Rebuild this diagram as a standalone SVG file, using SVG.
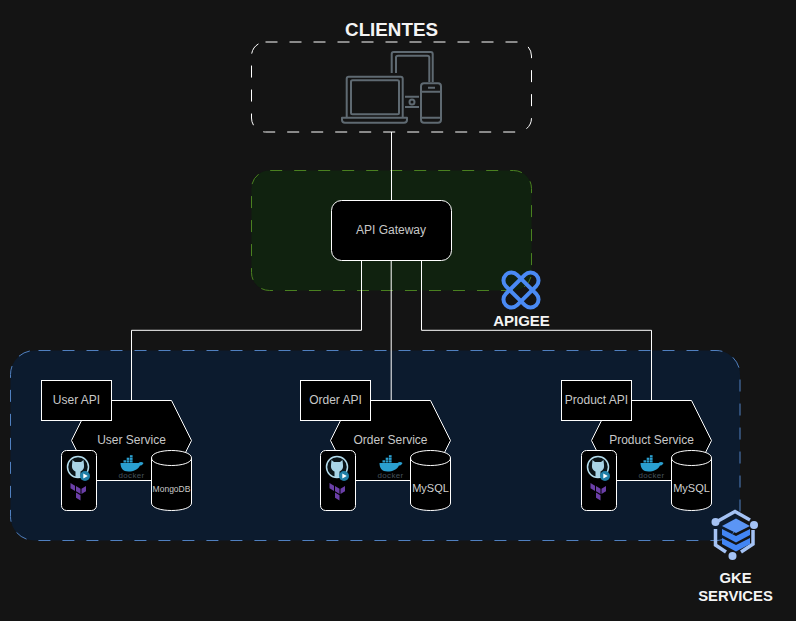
<svg xmlns="http://www.w3.org/2000/svg" xmlns:xlink="http://www.w3.org/1999/xlink" width="796" height="621" viewBox="0 0 796 621">
<style>
text{font-family:"Liberation Sans",Arial,sans-serif;text-anchor:middle}
.lbl{font-size:12px;fill:#c8c8c8}
.title{font-weight:bold;fill:#f4f4f4}
.box{fill:#000;stroke:#fff;stroke-width:1}
.conn{fill:none;stroke:#fff;stroke-width:1}
.dev{fill:none;stroke:#5f6a72;stroke-width:2;stroke-linejoin:round}
.apg{fill:none;stroke:#4a8af4;stroke-width:4}
</style>
<defs>
<g id="tools">
<rect class="box" x="61.500" y="450.500" width="35" height="60" rx="5"/>
<circle cx="78" cy="467" r="10.500" fill="#0a1418" stroke="#b4dcec" stroke-width="1.500"/>
<path d="M72.500 460 L75 462 H81 L83.500 460 L84 465 C84.500 469 82 471 80.500 471.500 V477 H75.500 V471.500 C74 471 71.500 469 72 465 Z" fill="#a8d4e6"/>
<circle cx="85" cy="476" r="5" fill="#1f7ea6"/>
<path d="M83.300 473.500 L87.800 476 L83.300 478.500 Z" fill="#fff"/>
<g fill="#6b3fa8">
<path d="M76 486 L80.500 488.700 V494 L76 491.300 Z"/>
<path d="M81.500 488.700 L86 486 V491.300 L81.500 494 Z"/>
<path d="M70.500 483 L75 485.700 V491 L70.500 488.300 Z"/>
<path d="M76 492.500 L80.500 495.200 V500.500 L76 497.800 Z"/>
</g>
</g>
<g id="docker">
<path d="M120.500 463 H138.500 C140 461.500 142 461.500 143.500 463 C142.500 465 141.500 465.500 140 465.500 C138 469.500 133.500 471.500 128.500 471.500 C123 471.500 120.500 468 120.500 463 Z" fill="#2a9fd0"/>
<g fill="#2a9fd0">
<rect x="123.500" y="460.300" width="2.700" height="2.200"/><rect x="126.700" y="460.300" width="2.700" height="2.200"/><rect x="129.900" y="460.300" width="2.700" height="2.200"/>
<rect x="126.700" y="457.700" width="2.700" height="2.200"/><rect x="129.900" y="457.700" width="2.700" height="2.200"/><rect x="129.900" y="455.200" width="2.700" height="2.200"/>
</g>
<text x="131.500" y="478" font-size="8" style="fill:#45525c;letter-spacing:.3px">docker</text>
</g>
<g id="db">
<path class="box" d="M151.500 458 C151.500 448 191.500 448 191.500 458 V503 C191.500 513 151.500 513 151.500 503 Z"/>
<path class="conn" d="M151.500 458 C151.500 468 191.500 468 191.500 458"/>
</g>
</defs>

<rect id="bg" width="796" height="621" fill="#141414"/>

<g id="clientes">
<rect x="251.500" y="42" width="280" height="90" rx="14" fill="none" stroke="#fff" stroke-width="1" stroke-dasharray="12 12"/>
<text class="title" x="391.500" y="35.500" font-size="18.800">CLIENTES</text>
<g class="dev">
<path d="M391.700 73 V54 Q391.700 52 393.700 52 H430.700 Q432.700 52 432.700 54 V82"/>
<path d="M396 73 V57.500 Q396 55.700 398 55.700 H427.300 Q429.300 55.700 429.300 57.500 V82"/>
<path d="M346.700 117 V78.700 Q346.700 76.700 348.700 76.700 H400.700 Q402.700 76.700 402.700 78.700 V117"/>
<rect x="351" y="80.300" width="48" height="34" rx="1.500"/>
<path d="M342 117.700 H407 V120 Q407 122.700 404 122.700 H345 Q342 122.700 342 120 Z"/>
<rect x="421" y="83.300" width="20" height="39.400" rx="3"/>
<path d="M421 91.700 H441 M421 117.700 H441 M428 87.700 H435 M405 96.700 H419 M405 107 H419"/>
<circle cx="412" cy="102" r="2.500"/>
</g>
</g>

<g id="apigee-zone">
<rect x="251.500" y="170.500" width="280" height="120" rx="18" fill="#10220f" stroke="#4a8020" stroke-width="1" stroke-dasharray="12 12" stroke-dashoffset="-0.700"/>
</g>

<g id="gke-zone">
<rect x="10.500" y="350.500" width="729.500" height="190" rx="24" fill="#0c1b2e" stroke="#5080c0" stroke-width="1" stroke-dasharray="12 12" stroke-dashoffset="-4"/>
</g>

<g id="connectors">
<path class="conn" d="M391.500 132 V200.500"/>
<path class="conn" d="M361.500 260.500 V330.300 H131.500 V400.500"/>
<path class="conn" d="M391.200 260.500 V400.500"/>
<path class="conn" d="M421.500 260.500 V330.300 H651.500 V400.500"/>
</g>

<g id="api-gateway">
<rect class="box" x="331.500" y="200.500" width="120" height="60" rx="10"/>
<text class="lbl" x="391" y="234">API Gateway</text>
</g>

<g id="apigee-logo">
<rect class="apg" x="499.500" y="282" width="43" height="16" rx="8" transform="rotate(45 521 290)"/>
<rect class="apg" x="499.500" y="282" width="43" height="16" rx="8" transform="rotate(-45 521 290)"/>
<text class="title" x="521.500" y="326" font-size="15">APIGEE</text>
</g>

<g id="user-service">
<path class="box" d="M91.500 400.500 H171.500 L191.500 440.500 L171.500 480.500 H91.500 L71.500 440.500 Z"/>
<text class="lbl" x="131.500" y="444">User Service</text>
<use xlink:href="#tools" href="#tools"/>
<use xlink:href="#docker" href="#docker"/>
<use xlink:href="#db" href="#db"/>
<text x="171.500" y="492" font-size="8.500" style="fill:#c8c8c8">MongoDB</text>
</g>
<g id="user-api">
<rect class="box" x="41.500" y="380.500" width="70" height="40"/>
<text class="lbl" x="76.500" y="404">User API</text>
</g>

<g id="order-service">
<path class="box" d="M350.500 400.500 H430.500 L450.500 440.500 L430.500 480.500 H350.500 L330.500 440.500 Z"/>
<text class="lbl" x="390.500" y="444">Order Service</text>
<g transform="translate(259 0)"><use xlink:href="#tools" href="#tools"/><use xlink:href="#docker" href="#docker"/><use xlink:href="#db" href="#db"/></g>
<text x="430.500" y="492" font-size="11" style="fill:#d0d0d0">MySQL</text>
</g>
<g id="order-api">
<rect class="box" x="300.500" y="380.500" width="70" height="40"/>
<text class="lbl" x="335.500" y="404">Order API</text>
</g>

<g id="product-service">
<path class="box" d="M611.500 400.500 H691.500 L711.500 440.500 L691.500 480.500 H611.500 L591.500 440.500 Z"/>
<text class="lbl" x="651.500" y="444">Product Service</text>
<g transform="translate(520 0)"><use xlink:href="#tools" href="#tools"/><use xlink:href="#docker" href="#docker"/><use xlink:href="#db" href="#db"/></g>
<text x="691.500" y="492" font-size="11" style="fill:#d0d0d0">MySQL</text>
</g>
<g id="product-api">
<rect class="box" x="561.500" y="380.500" width="70" height="40"/>
<text class="lbl" x="596.500" y="404">Product API</text>
</g>

<g id="gke-logo">
<path d="M718 521 L735 511.500 L750 520 M753 530 V544 L741 552 M726 552 L715.500 545 V529" fill="none" stroke="#a4c2f4" stroke-width="3.500"/>
<circle cx="715.500" cy="522" r="4" fill="#a4c2f4"/>
<circle cx="754" cy="525" r="4" fill="#a4c2f4"/>
<circle cx="732.500" cy="556" r="4" fill="#a4c2f4"/>
<path d="M736 518.500 L750 526 L736 533 L722 526 Z" fill="#5b95f5"/>
<path d="M722 529 L736 536 L750 529 V535 L736 542.500 L722 535 Z" fill="#4285f4"/>
<path d="M722 538 L736 545 L750 538 V544 L736 551.500 L722 544 Z" fill="#4285f4"/>
<text class="title" x="735.500" y="583" font-size="14.800">GKE</text>
<text class="title" x="735.500" y="600.500" font-size="14.800">SERVICES</text>
</g>
</svg>
